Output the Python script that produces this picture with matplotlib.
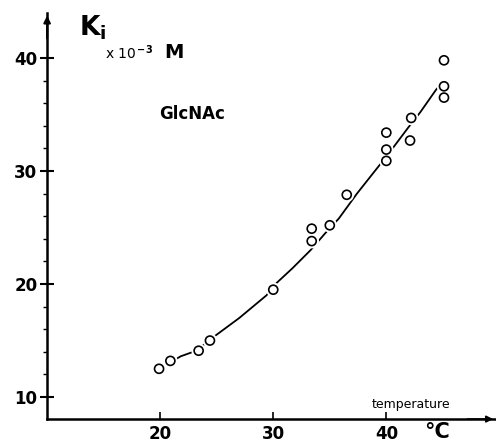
import numpy as np
import matplotlib.pyplot as plt
import matplotlib.patheffects as pe

# measured points (temperature, Ki x 10^-3 M)
temp = [19.9, 20.9, 23.4, 24.4, 30.0, 33.4, 33.4, 35.0, 36.5,
        40.0, 40.0, 40.0, 42.1, 42.2, 45.1, 45.1, 45.1]
ki = [12.5, 13.2, 14.1, 15.0, 19.5, 23.8, 24.9, 25.2, 27.9,
      30.9, 31.9, 33.4, 32.7, 34.7, 36.5, 37.5, 39.8]

# hand drawn curve
curve_t = [20, 21.8, 23.2, 24.7, 27, 29.4, 30.3, 31.7, 33.3, 34.6,
           35.8, 37.4, 39.3, 40.7, 41.9, 43.0, 44.4, 45.0]
curve_k = [12.5, 13.6, 14.1, 15.3, 17.0, 19.0, 20.1, 21.4, 23.0, 24.5,
           25.8, 28.0, 30.4, 32.2, 33.8, 35.2, 37.2, 37.9]

xticks = [20, 30, 40]
yticks = [10, 20, 30, 40]

fig = plt.figure(figsize=(4.96, 4.43), dpi=100)
ax = fig.add_axes([0.095, 0.054, 0.905, 0.917])
ax.set_xlim(10, 49.7)
ax.set_ylim(8.05, 44.0)

ax.plot(curve_t, curve_k, color='black', lw=1.3, zorder=2)
ax.plot(temp, ki, 'o', ms=6.5, mfc='white', mec='black', mew=1.2, zorder=3,
        path_effects=[pe.Stroke(linewidth=4, foreground='white'), pe.Normal()])

for s in ['top', 'right']:
    ax.spines[s].set_visible(False)
ax.spines['left'].set_linewidth(1.8)
ax.spines['bottom'].set_linewidth(1.8)

# arrow heads at the ends of the axes
ax.annotate('', xy=(0, 1.0), xytext=(0, 0.93), xycoords='axes fraction',
            arrowprops=dict(arrowstyle='-|>', color='black', lw=1.5, mutation_scale=10))
ax.annotate('', xy=(1.0, 0), xytext=(0.93, 0), xycoords='axes fraction',
            arrowprops=dict(arrowstyle='-|>', color='black', lw=1.2, mutation_scale=10))

ax.set_xticks(xticks)
ax.set_yticks(yticks)
ax.set_yticks([v for v in np.arange(10, 40, 2) if v % 10 != 0], minor=True)
ax.tick_params(axis='y', which='major', direction='inout', length=10, width=1.5,
               labelsize=12, pad=2)
ax.tick_params(axis='y', which='minor', direction='out', length=3, width=1)
ax.tick_params(axis='x', which='major', direction='in', length=5, width=1.2,
               labelsize=12, pad=4)
for lab in ax.get_xticklabels() + ax.get_yticklabels():
    lab.set_fontweight('bold')

ax.text(0.072, 0.998, r'$\mathbf{K_i}$', transform=ax.transAxes, fontsize=19,
        va='top', ha='left')
ax.text(0.13, 0.902, r'x 10$^{\,\mathbf{-3}}$', transform=ax.transAxes,
        fontsize=10, va='center', ha='left')
ax.text(0.262, 0.902, 'M', transform=ax.transAxes, fontsize=14,
        fontweight='bold', va='center', ha='left')
ax.text(0.25, 0.75, 'GlcNAc', transform=ax.transAxes, fontsize=12,
        fontweight='heavy', va='center', ha='left')
ax.text(0.722, 0.035, 'temperature', transform=ax.transAxes, fontsize=9,
        va='center', ha='left')
ax.text(0.84, -0.032, '°C', transform=ax.transAxes, fontsize=15,
        fontweight='bold', va='center', ha='left')

fig.savefig('out.png', dpi=100)
